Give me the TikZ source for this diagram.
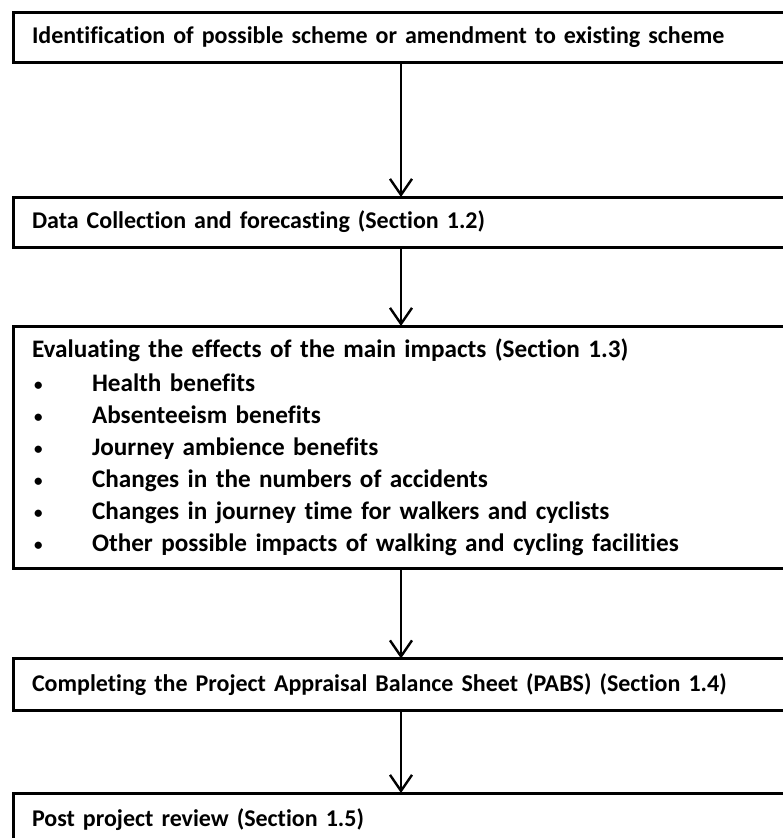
\documentclass[tikz,border=0pt]{standalone}
\usepackage{fontspec}
\setmainfont[Ligatures=NoCommon]{Carlito}
\usepackage{tikz}
\usetikzlibrary{arrows.meta,positioning}

\newcommand{\evbullet}{\makebox[60pt][l]{\hspace{2pt}\raisebox{1pt}{\fontsize{17}{17}\selectfont\textbullet}}}

\tikzset{
  stage/.style={draw=black,line width=3pt,outer sep=0pt,anchor=north west,
    minimum width=775pt,text width=738pt,inner xsep=18.5pt,align=left,
    font=\bfseries\fontsize{24}{32.5}\selectfont},
  flow/.style={line width=2.4pt,-{Straight Barb[length=16pt,width=22pt,line width=2.4pt]}}
}

\begin{document}
\begin{tikzpicture}[x=1pt,y=-1pt]
  \useasboundingbox (0,0) rectangle (782,838);
  \node[stage,minimum height=49.5pt] (ident) at (13.5,12.5)
  {Identification of possible scheme or amendment to existing scheme};
  \node[stage,minimum height=50pt] (data) at (13.5,197)
  {Data Collection and forecasting (Section 1.2)};
  \node[stage,minimum height=242pt,font=\bfseries\fontsize{25.2}{32}\selectfont] (eval) at (13.5,326)
  {Evaluating the effects of the main impacts (Section 1.3)\\[2pt]
    \evbullet Health benefits\\
    \evbullet Absenteeism benefits\\
    \evbullet Journey ambience benefits\\
    \evbullet Changes in the numbers of accidents\\
    \evbullet Changes in journey time for walkers and cyclists\\
    \evbullet Other possible impacts of walking and cycling facilities};
  \node[stage,minimum height=52pt] (pabs) at (13.5,658.5)
  {Completing the Project Appraisal Balance Sheet (PABS) (Section 1.4)};
  \node[stage,minimum height=54pt] (review) at (13.5,793)
  {Post project review (Section 1.5)};
  % arrows down the middle
  \draw[flow] (ident) -- (data);
  \draw[flow] (data) -- (eval);
  \draw[flow] (eval) -- (pabs);
  \draw[flow] (pabs) -- (review);
\end{tikzpicture}
\end{document}
